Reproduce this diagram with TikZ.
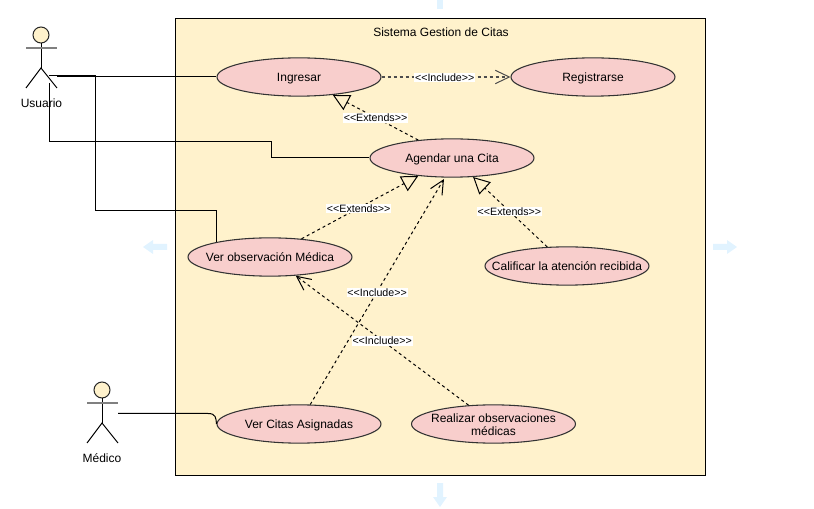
\documentclass[tikz,border=0pt]{standalone}
\usepackage{fontspec}
\setmainfont{Liberation Sans}
\usetikzlibrary{shapes.geometric,arrows.meta}
\definecolor{boxfill}{HTML}{FFF2CC}
\definecolor{casefill}{HTML}{F8CECC}
\definecolor{hint}{HTML}{E1F3FF}
\newcommand\uctext[1]{\raisebox{-3.9pt}[0pt][0pt]{\makebox[0pt]{\begin{tabular}[c]{@{}c@{}}#1\end{tabular}}}}
\newcommand\incltext{<{}<Include>{}>}
\newcommand\exttext{<{}<Extends>{}>}
\tikzset{
  x=0.75pt,y=-0.75pt,
  every node/.style={font=\fontsize{9}{10.5}\selectfont,text=black},
  line/.style={draw=black,line width=0.75pt},
  usecase/.style={ellipse,draw=black!80,fill=casefill,line width=0.8pt,minimum width=123pt,minimum height=28.7pt,inner sep=0pt},
  dashline/.style={draw=black,line width=0.75pt,dash pattern=on 2.25pt off 2.25pt},
  incl/.style={dashline,-{Straight Barb[length=10.5pt,width=10pt,line width=0.75pt]}},
  exten/.style={dashline,-{Triangle[open,length=12.4pt,width=12.5pt,line width=0.75pt]}},
  tag/.style={fill=white,font=\fontsize{8}{9}\selectfont,inner xsep=0.6pt,inner ysep=0.5pt,yshift=-0.4pt},
  head/.style={circle,draw=black!85,fill=boxfill,line width=0.75pt,minimum size=12pt,inner sep=0pt},
  arm/.style={draw=black!50,line width=1.1pt},
  hintarrow/.style={fill=hint,draw=none},
}
\begin{document}
\begin{tikzpicture}
\useasboundingbox (0,0) rectangle (814,509);
% faint guide arrows
\fill[hintarrow] (143,247) -- (153,240) -- (153,244) -- (167,244) -- (167,250) -- (153,250) -- (153,254) -- cycle;
\fill[hintarrow] (737,247) -- (727,240) -- (727,244) -- (713,244) -- (713,250) -- (727,250) -- (727,254) -- cycle;
\fill[hintarrow] (437,0) -- (443,0) -- (443,9) -- (437,9) -- cycle;
\fill[hintarrow] (440,507) -- (433,497) -- (437,497) -- (437,483) -- (443,483) -- (443,497) -- (447,497) -- cycle;
% system
\node[draw=black,fill=boxfill,line width=0.75pt,minimum width=397.5pt,minimum height=342.4pt,inner sep=0pt] (sys) at (440.5,246.9) {};
\node (title) at (441,32.5) {Sistema Gestion de Citas};
% use cases
\node[usecase] (ingresar) at (299,77) {\uctext{Ingresar}};
\node[usecase] (registrarse) at (593,77) {\uctext{Registrarse}};
\node[usecase] (agendar) at (452,158) {\uctext{Agendar una Cita}};
\node[usecase] (verobs) at (270,257) {\uctext{Ver observación Médica}};
\node[usecase] (calificar) at (567,266) {\uctext{Calificar la atención recibida}};
\node[usecase] (vercitas) at (299,424) {\uctext{Ver Citas Asignadas}};
\node[usecase] (realizar) at (493.5,424) {\uctext{Realizar observaciones\\médicas}};
% actors
\node[head] (uhead) at (41,35) {};
\draw[line] (uhead.south) -- (41,68) coordinate (uhip);
\draw[arm] (26,48) -- (57,48);
\draw[line] (26,88) -- (uhip) -- (57,88);
\node (usuario) at (41.5,103) {Usuario};
\node[head] (mhead) at (102,390) {};
\draw[line] (mhead.south) -- (102,423) coordinate (mhip);
\draw[arm] (87,403) -- (118,403);
\draw[line] (87,443) -- (mhip) -- (118,443);
\node (medico) at (102,458) {Médico};
% free ends at the actors
\coordinate (uA) at (57,77);
\coordinate (uB) at (49,75.5);
\coordinate (uC) at (49.5,83);
\coordinate (mA) at (118,413.5);
% associations
\draw[line] (uA) -- (ingresar.west);
\draw[line] (uB) -- (95.5,75.5) -- (95.5,210.5) -- (216.5,210.5) -- (216.5,241.6);
\draw[line] (uC) -- (49.5,141.5) -- (271.5,141.5) -- (271.5,158) -- (agendar.west);
\draw[line] (mA) -- (208,413.5) .. controls (216,413.5) and (216,418) .. (vercitas.west);
% dependencies
\draw[incl,draw=black!70,line width=1pt] (ingresar.east) -- (registrarse.west) node[tag,pos=0.49,text=black] (t1) {\incltext};
\draw[exten] (agendar.152) -- (ingresar.-28) node[tag,pos=0.50] (t2) {\exttext};
\draw[exten] (verobs.30) -- (agendar.208) node[tag,pos=0.49] (t3) {\exttext};
\draw[exten] (calificar.136) -- (agendar.-42) node[tag,pos=0.51] (t4) {\exttext};
\draw[incl] (vercitas.60) -- (444,179) node[tag,pos=0.5] (t5) {\incltext};
\draw[incl] (realizar.143) -- (verobs.-36) node[tag,pos=0.50] (t6) {\incltext};
\end{tikzpicture}
\end{document}
